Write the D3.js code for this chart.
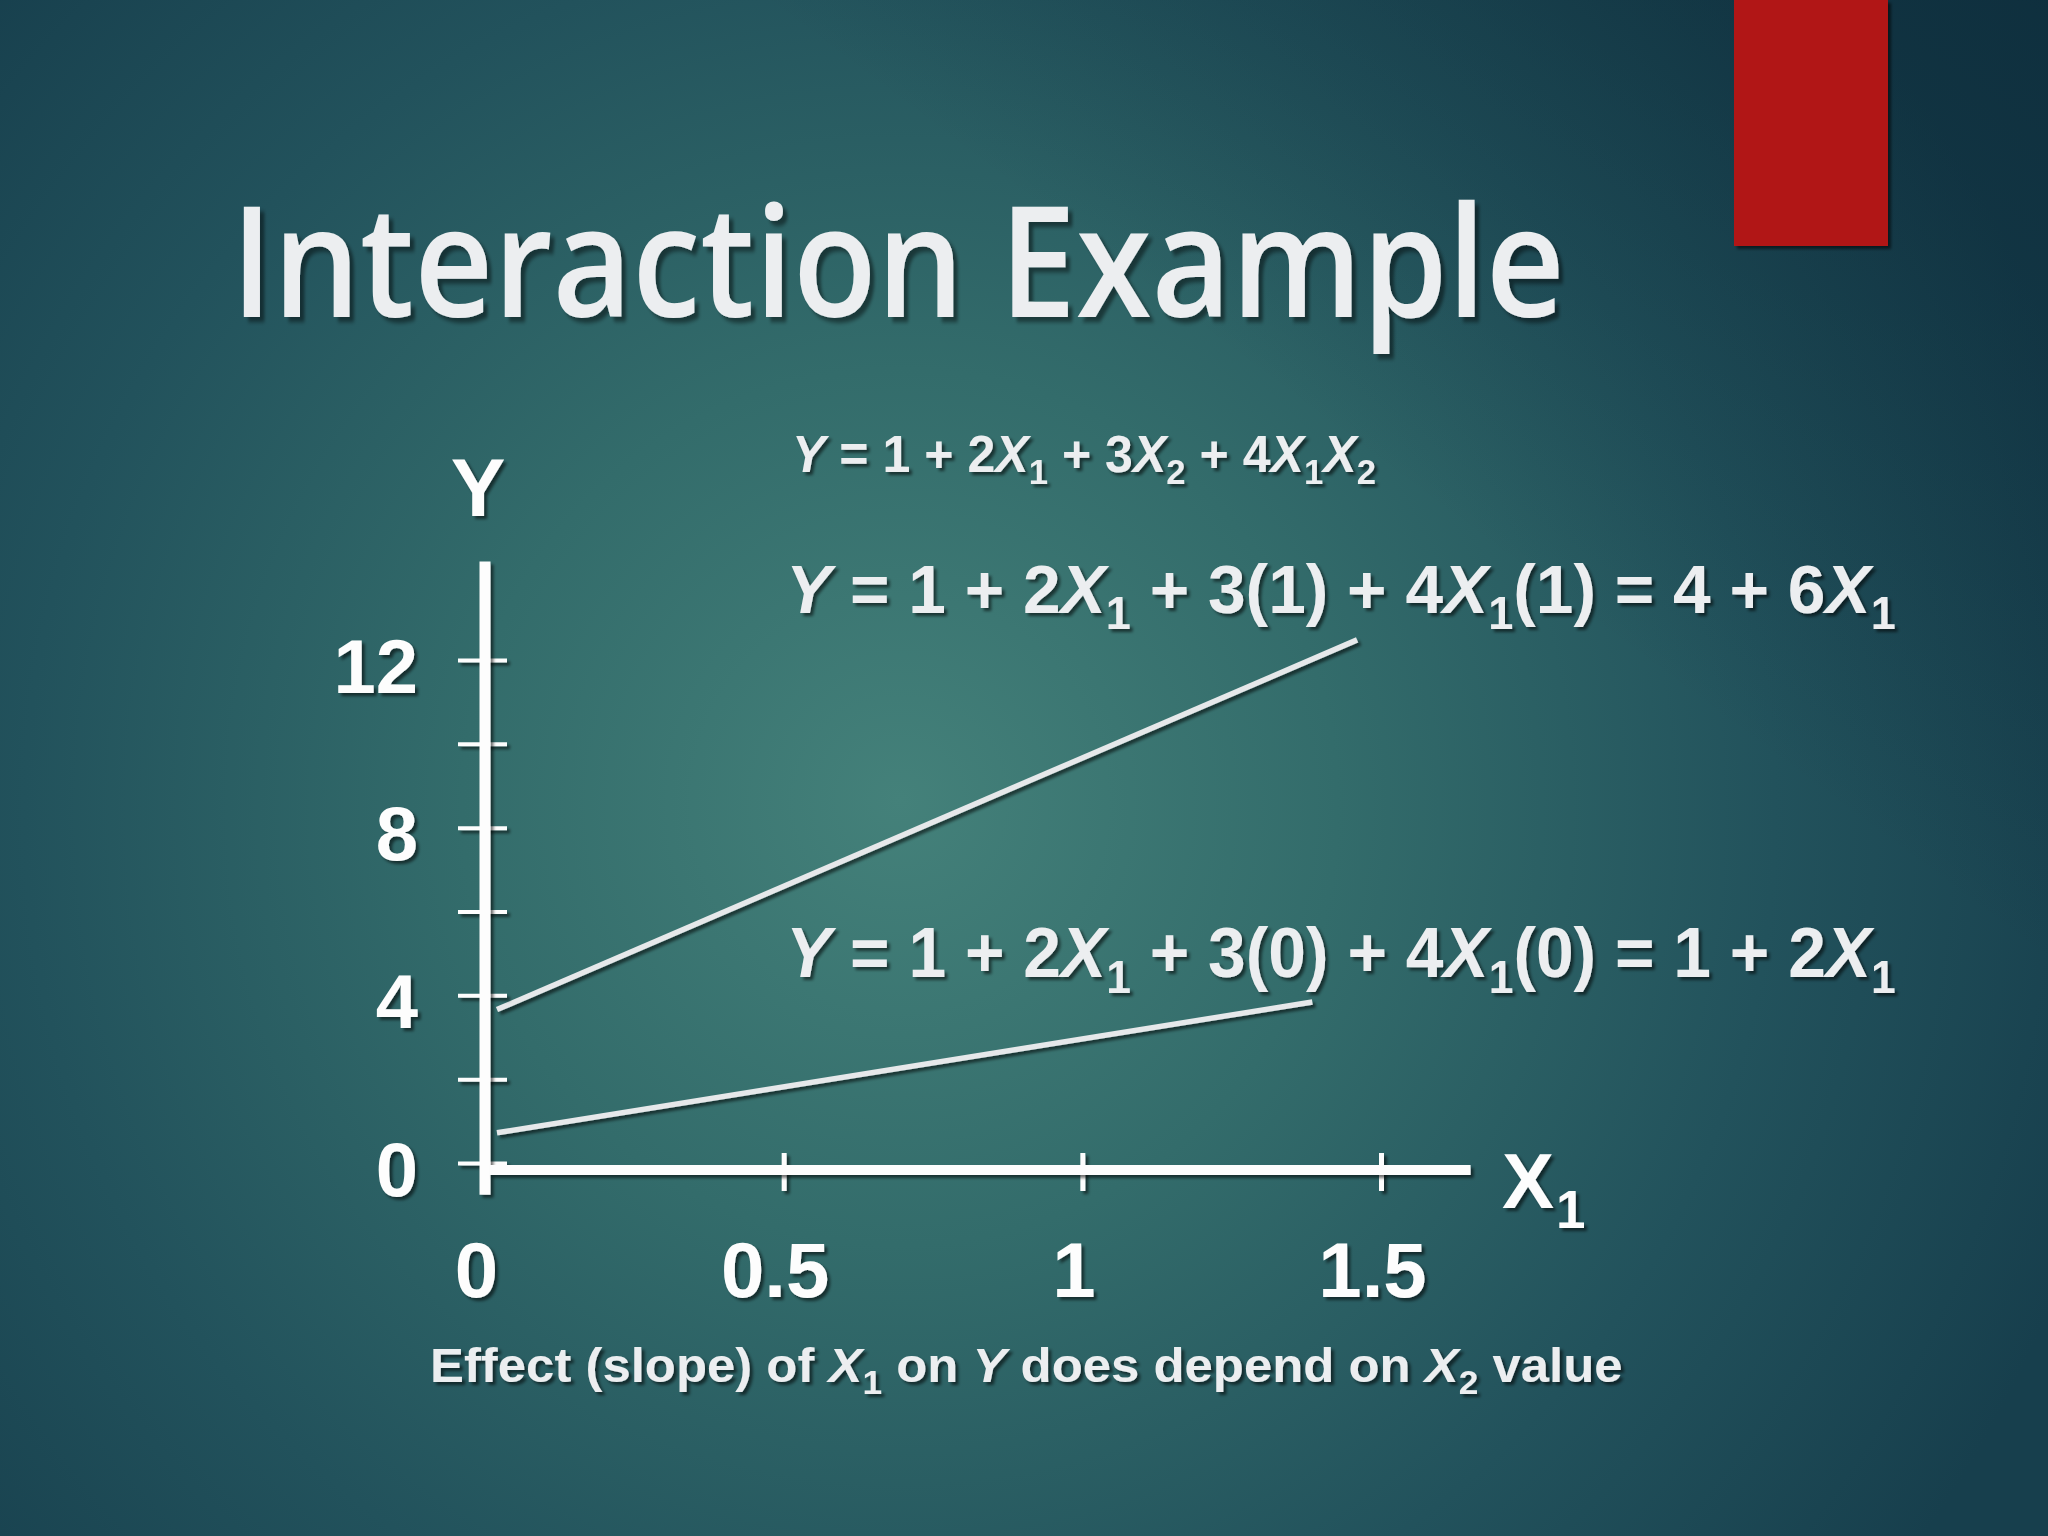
<!DOCTYPE html>
<html><head><meta charset="utf-8">
<script src="https://cdn.jsdelivr.net/npm/d3@7"></script>
<style>html,body{margin:0;padding:0;background:#1d4a55;} svg{display:block;} text{white-space:pre;}</style>
</head><body><script>
// ---------- data ----------
const xTicks = [0, 0.5, 1, 1.5];
const xTickLabels = ["0", "0.5", "1", "1.5"];
const yTicks = [0, 2, 4, 6, 8, 10, 12];
const yTickLabels = ["0", "", "4", "", "8", "", "12"];
const xAxisExtent = [0.007, 1.65];
const yAxisExtent = [-0.76, 14.35];
// lines (X1, Y)
const upperLineX = [0.02, 1.46];
const upperLineY = [3.66, 12.48];
const lowerLineX = [0.02, 1.385];
const lowerLineY = [0.72, 3.84];
// texts: [string, style] style: "" normal, "i" italic, "s" subscript
const titleText = "Interaction Example";
const modelEq = [["Y","i"],[" = 1 + 2",""],["X","i"],["1","s"],[" + 3",""],["X","i"],["2","s"],[" + 4",""],["X","i"],["1","s"],["X","i"],["2","s"]];
const eqX2is1 = [["Y","i"],[" = 1 + 2",""],["X","i"],["1","s"],[" + 3(1) + 4",""],["X","i"],["1","s"],["(1) = 4 + 6",""],["X","i"],["1","s"]];
const eqX2is0 = [["Y","i"],[" = 1 + 2",""],["X","i"],["1","s"],[" + 3(0) + 4",""],["X","i"],["1","s"],["(0) = 1 + 2",""],["X","i"],["1","s"]];
const caption = [["Effect (slope) of ",""],["X","i"],["1","s"],[" on ",""],["Y","i"],[" does depend on ",""],["X","i"],["2","s"],[" value",""]];

// ---------- setup ----------
const W = 2048, H = 1536;
const svg = d3.select("body").append("svg").attr("width", W).attr("height", H);
const defs = svg.append("defs");

const rg = defs.append("radialGradient").attr("id","bg").attr("gradientUnits","userSpaceOnUse")
  .attr("cx", 900).attr("cy", 820).attr("r", 1250).attr("fx", 900).attr("fy", 800);
[[0,"#44817a"],[0.35,"#336c6b"],[0.7,"#22525c"],[1,"#173f4d"]].forEach(s=>rg.append("stop").attr("offset",s[0]).attr("stop-color",s[1]));
const lg = defs.append("linearGradient").attr("id","dark").attr("x1",0.3).attr("y1",0.7).attr("x2",1).attr("y2",0);
[[0,"rgba(8,35,50,0)"],[0.55,"rgba(8,35,50,0)"],[1,"rgba(8,35,50,0.55)"]].forEach(s=>lg.append("stop").attr("offset",s[0]).attr("stop-color",s[1]));

function shadow(id, dx, dy, sd, op){
  const f = defs.append("filter").attr("id", id).attr("filterUnits","userSpaceOnUse")
    .attr("x",-W).attr("y",-H).attr("width",3*W).attr("height",3*H);
  f.append("feDropShadow").attr("dx",dx).attr("dy",dy).attr("stdDeviation",sd).attr("flood-color","#000").attr("flood-opacity",op);
}
shadow("sh", 3, 3, 1.5, 0.55);
shadow("shT", 5, 5, 2, 0.45);

svg.append("rect").attr("width",W).attr("height",H).attr("fill","url(#bg)");
svg.append("rect").attr("width",W).attr("height",H).attr("fill","url(#dark)");

// red accent block
svg.append("rect").attr("x",1734).attr("y",0).attr("width",154).attr("height",246)
  .attr("fill","#b11516").attr("filter","url(#sh)");

// title
const title = svg.append("text").text(titleText)
  .attr("font-family","'Open Sans','Noto Sans',sans-serif").attr("font-weight",600).attr("font-size",155)
  .attr("fill","#eceef0").attr("filter","url(#shT)");
{
  const b = title.node().getBBox();
  const sx = 1334 / b.width;
  title.attr("transform", `translate(${231 - b.x*sx},317) scale(${sx},1)`);
}

// ---------- rich text helper ----------
function rich(parts, o){
  const t = svg.append("text").attr("font-family","'Liberation Sans',Arial,sans-serif")
    .attr("font-weight","bold").attr("font-size",o.size).attr("fill",o.fill||"#eceef0")
    .attr("filter","url(#sh)");
  let shifted = false;
  parts.forEach(p=>{
    const ts = t.append("tspan").text(p[0]);
    if (p[1]==="i") ts.attr("font-style","italic");
    if (p[1]==="s") { ts.attr("font-size", o.sub).attr("dy", o.subDy); shifted = true; }
    else if (shifted) { ts.attr("dy", -o.subDy); shifted = false; }
  });
  const b = t.node().getBBox();
  const sx = o.width / b.width;
  t.attr("transform", `translate(${o.x - b.x*sx},${o.y}) scale(${sx},1)`);
  return t;
}

// ---------- scales ----------
const x = d3.scaleLinear().domain([0,1.5]).range([485,1381]);
const y = d3.scaleLinear().domain([0,12]).range([1163,660]);

// ---------- lines ----------
const line = d3.line().x(d=>x(d[0])).y(d=>y(d[1]));
[[upperLineX,upperLineY],[lowerLineX,lowerLineY]].forEach(([xs,ys])=>{
  svg.append("path").datum(xs.map((v,i)=>[v,ys[i]])).attr("d",line)
    .attr("fill","none").attr("stroke","#e6e8ea").attr("stroke-width",5.5).attr("filter","url(#sh)");
});

// ---------- axes ----------
const gy = svg.append("g").attr("transform",`translate(${x(0)},0)`)
  .call(d3.axisLeft(y).tickValues(yTicks).tickFormat((d,i)=>yTickLabels[i]).tickSizeOuter(0));
gy.select(".domain").remove();
gy.selectAll(".tick line").attr("x1",22).attr("x2",-27).attr("stroke","#fdfdfd").attr("stroke-width",4).attr("filter","url(#sh)");
gy.selectAll(".tick text").attr("x",-67).attr("dy",null).attr("y",32)
  .attr("font-family","'Liberation Sans',Arial,sans-serif").attr("font-weight","bold").attr("font-size",76)
  .attr("fill","#fdfdfd").attr("filter","url(#sh)");

const gx = svg.append("g").attr("transform","translate(0,1170)")
  .call(d3.axisBottom(x).tickValues(xTicks).tickFormat((d,i)=>xTickLabels[i]).tickSizeOuter(0));
gx.select(".domain").remove();
gx.selectAll(".tick line").attr("y1",-17).attr("y2",21).attr("stroke","#fdfdfd").attr("stroke-width",5)
  .attr("filter","url(#sh)").filter(d=>d===0).remove();
gx.selectAll(".tick text").attr("x",-9).attr("dy",null).attr("y",127)
  .attr("font-family","'Liberation Sans',Arial,sans-serif").attr("font-weight","bold").attr("font-size",78)
  .attr("fill","#fdfdfd").attr("filter","url(#sh)");

// main axis lines
svg.append("line").attr("x1",x(0)).attr("x2",x(0)).attr("y1",y(yAxisExtent[1])).attr("y2",y(yAxisExtent[0]))
  .attr("stroke","#fdfdfd").attr("stroke-width",11).attr("filter","url(#sh)");
svg.append("line").attr("x1",x(xAxisExtent[0])).attr("x2",x(xAxisExtent[1])).attr("y1",1170).attr("y2",1170)
  .attr("stroke","#fdfdfd").attr("stroke-width",10).attr("filter","url(#sh)");

// axis titles
svg.append("text").text("Y").attr("x",478).attr("y",516).attr("text-anchor","middle")
  .attr("font-family","'Liberation Sans',Arial,sans-serif").attr("font-weight","bold").attr("font-size",82)
  .attr("fill","#fdfdfd").attr("filter","url(#sh)");
const xl = svg.append("text").attr("x",1502).attr("y",1208)
  .attr("font-family","'Liberation Sans',Arial,sans-serif").attr("font-weight","bold").attr("font-size",78)
  .attr("fill","#fdfdfd").attr("filter","url(#sh)");
xl.append("tspan").text("X");
xl.append("tspan").text("1").attr("font-size",53).attr("dy",20).attr("dx",2);

// ---------- equations & caption ----------
rich(modelEq, {x:792, y:472, size:52, sub:36, subDy:12, width:584});
rich(eqX2is1, {x:786, y:613, size:69, sub:46, subDy:16, width:1110});
rich(eqX2is0, {x:786, y:977, size:70, sub:46, subDy:16, width:1110});
rich(caption, {x:430, y:1382, size:49, sub:34, subDy:12, width:1193});
</script></body></html>
